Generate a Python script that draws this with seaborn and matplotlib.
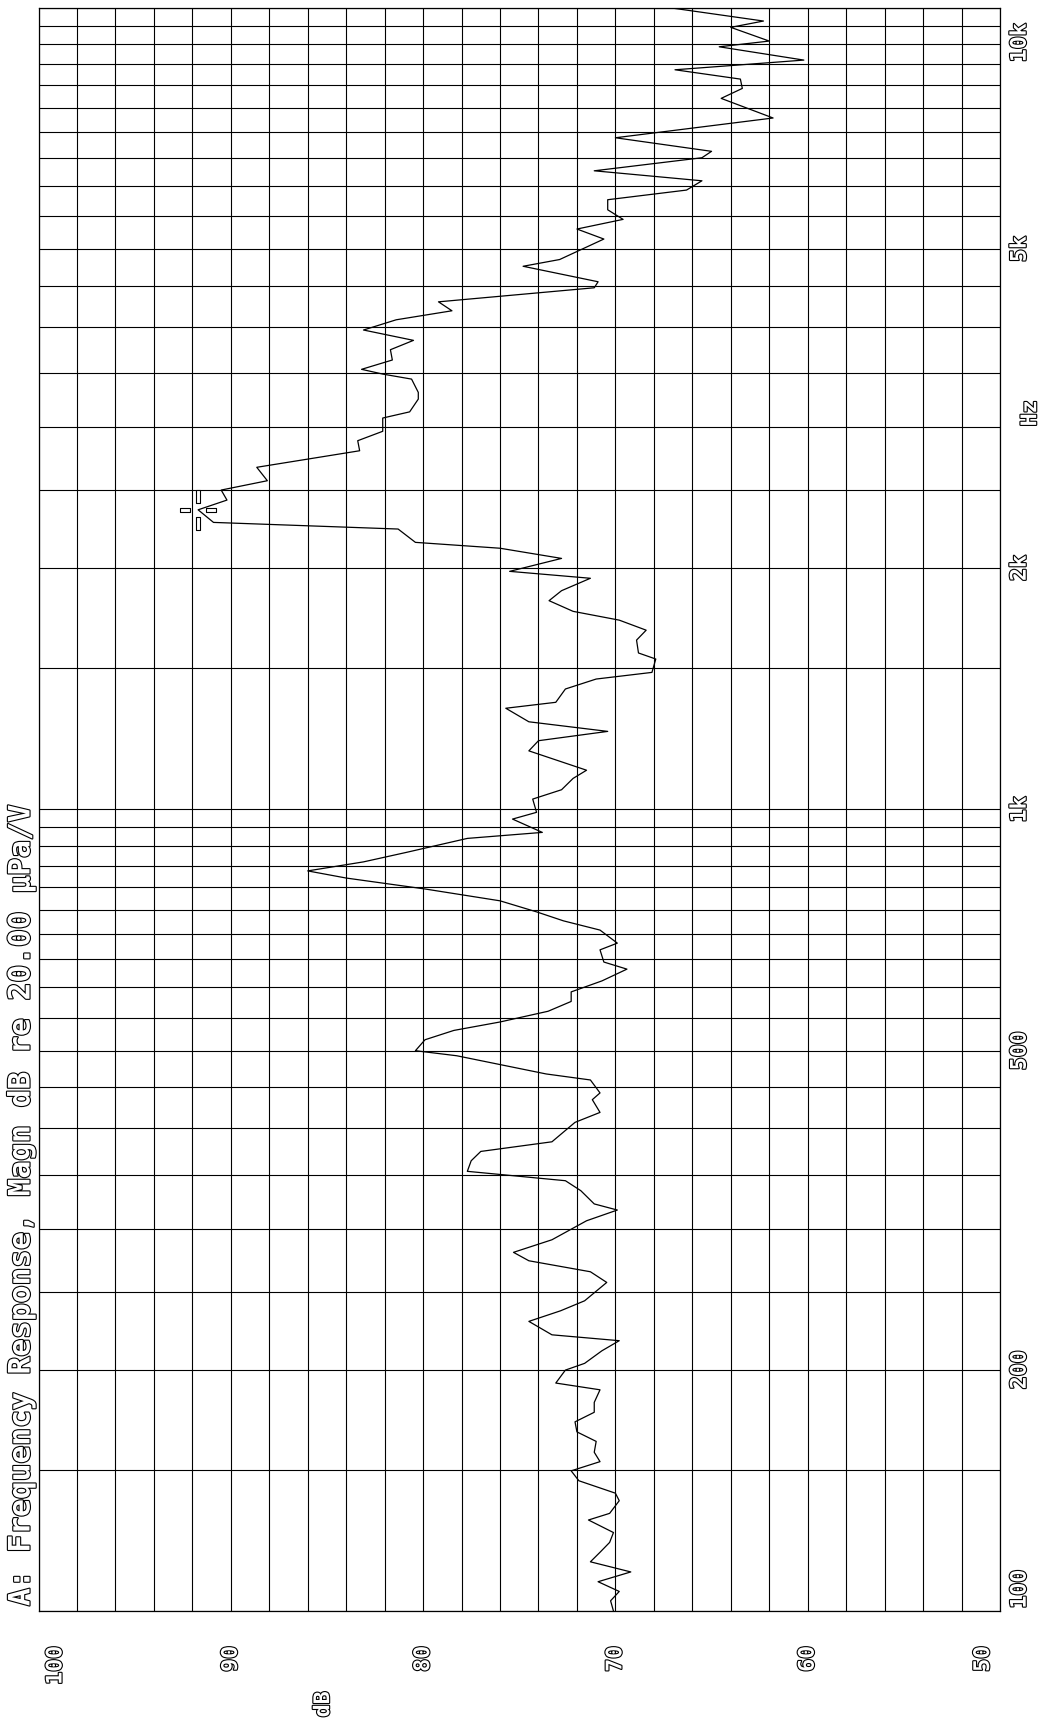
import numpy as np
import pandas as pd
import matplotlib
matplotlib.use('Agg')
import matplotlib.pyplot as plt
import matplotlib.patheffects as pe
from matplotlib.path import Path
from matplotlib.ticker import NullFormatter
from matplotlib.transforms import ScaledTranslation
import seaborn as sns

freq_hz = [10000, 9623, 9450, 9085, 8937, 8602, 8366, 8145, 7930, 7706,
           7284, 6882, 6619, 6498, 6259, 6082, 5922, 5760, 5596, 5444,
           5295, 5145, 4851, 4758, 4551, 4473, 4296, 4187, 4080, 3962,
           3846, 3744, 3635, 3539, 3491, 3441, 3312, 3249, 3132, 3077,
           2962, 2883, 2801, 2671, 2570, 2502, 2431, 2364, 2280, 2237,
           2153, 2117, 2056, 1981, 1942, 1874, 1821, 1766, 1722, 1673,
           1626, 1567, 1540, 1482, 1454, 1413, 1360, 1337, 1286, 1251,
           1218, 1183, 1119, 1093, 1058, 1030, 991.5, 972.5, 936, 920,
           884, 860, 838, 821, 795.6, 769, 745, 726, 707, 681,
           668, 645, 632, 611, 592, 576, 560, 543, 530, 516,
           500, 492.8, 467.7, 459.7, 442.9, 434.4, 418.8, 407, 384.9, 374.4,
           364.5, 353.6, 344.2, 334.5, 322, 316.4, 306.8, 290.5, 280.2, 273.5,
           265, 257, 243.8, 236.9, 229.8, 221.1, 217.4, 211.2, 203.7, 199.8,
           192.5, 188.8, 182.1, 177.0, 172.2, 167.3, 162.8, 157.8, 153.6, 149.6,
           145.4, 140.3, 137.3, 132.4, 129.9, 125.3, 121.8, 118.4, 115.2, 111.9,
           108.8, 105.8, 103.0, 100]
level_db = [67.2, 62.3, 64.0, 62.0, 64.6, 60.2, 66.9, 63.5, 63.4, 64.5,
            61.8, 70.0, 65.0, 65.5, 71.1, 65.5, 66.3, 70.4, 70.4, 69.6,
            72.0, 70.6, 72.9, 74.8, 70.9, 71.1, 79.2, 78.5, 81.4, 83.1,
            80.5, 81.7, 81.6, 83.2, 82.1, 80.6, 80.25, 80.25, 80.7, 82.1,
            82.1, 83.4, 83.3, 88.65, 88.1, 90.5, 90.2, 91.7, 90.9, 81.3,
            80.4, 76.0, 72.8, 75.5, 71.3, 72.8, 73.45, 72.2, 69.8, 68.4,
            68.9, 68.8, 67.9, 68.1, 71.0, 72.6, 73.1, 75.7, 74.5, 70.4,
            74.0, 74.5, 71.5, 72.2, 72.8, 74.3, 74.1, 75.35, 73.8, 77.7,
            80.85, 83.1, 86.0, 84.0, 79.9, 76.0, 74.1, 72.7, 70.8, 69.9,
            70.8, 70.6, 69.4, 70.7, 72.3, 72.3, 73.5, 76.0, 78.4, 79.9,
            80.4, 78.25, 73.6, 71.3, 70.8, 71.2, 70.8, 72.1, 73.3, 77.0,
            77.5, 77.7, 72.6, 71.8, 71.1, 69.9, 71.5, 73.3, 75.3, 74.5,
            71.3, 70.45, 71.6, 72.85, 74.5, 73.3, 69.8, 70.7, 71.6, 72.6,
            73.1, 70.8, 71.1, 71.1, 72.1, 72.0, 71.0, 71.1, 70.8, 72.3,
            71.9, 70.0, 69.8, 70.3, 71.4, 70.1, 70.3, 70.8, 71.3, 69.2,
            70.9, 69.8, 70.25, 70.1]

db_ticks = [100, 90, 80, 70, 60, 50]
db_labels = ['100', '90', '80', '70', '60', '50']
db_grid = list(range(50, 101, 2))
freq_ticks = [100, 200, 500, 1000, 2000, 5000, 10000]
freq_labels = ['100', '200', '500', '1k', '2k', '5k', '10k']
freq_grid = list(range(150, 1000, 50)) + list(range(1500, 10000, 500))

title = 'A: Frequency Response, Magn dB re 20.00 \u03bcPa/V'

sns.set_style('white')
plt.rcParams['font.family'] = ['DejaVu Sans Mono', 'DejaVu Sans']

df = pd.DataFrame({'freq': freq_hz, 'db': level_db})

fig = plt.figure(figsize=(10.41, 17.31), dpi=100)
ax = fig.add_axes([0.037, 0.0687, 0.9236, 0.9263])

sns.lineplot(data=df, x='db', y='freq', sort=False, estimator=None,
             color='black', lw=0.9, ax=ax)

ax.set_yscale('log')
ax.set_xlim(100, 50)
ax.set_ylim(100, 10000)

# outlined lettering like the plotter font
txt = dict(color='white', fontweight='bold',
           path_effects=[pe.withStroke(linewidth=1.6, foreground='black')])

ax.set_xticks(db_ticks)
ax.set_xticklabels(db_labels, rotation=90, fontsize=15.5, **txt)
ax.set_xticks(db_grid, minor=True)
ax.yaxis.tick_right()
ax.set_yticks(freq_ticks)
ax.set_yticklabels(freq_labels, rotation=90, va='center', fontsize=15.5, **txt)
ax.set_yticks(freq_grid, minor=True)
ax.yaxis.set_minor_formatter(NullFormatter())
ax.tick_params(which='both', length=0)
ax.tick_params(axis='x', pad=25)
ax.tick_params(axis='y', pad=7)
ax.grid(which='both', color='black', lw=0.8)
for s in ax.spines.values():
    s.set_color('black')
    s.set_linewidth(0.9)

# end labels are pulled inside the frame
xl = ax.get_xticklabels()
xl[0].set_transform(xl[0].get_transform() + ScaledTranslation(0.17, 0, fig.dpi_scale_trans))
xl[-1].set_transform(xl[-1].get_transform() + ScaledTranslation(-0.17, 0, fig.dpi_scale_trans))
yl = ax.get_yticklabels()
yl[0].set_transform(yl[0].get_transform() + ScaledTranslation(0, 0.22, fig.dpi_scale_trans))
yl[-1].set_transform(yl[-1].get_transform() + ScaledTranslation(0, -0.35, fig.dpi_scale_trans))

ax.set_xlabel('dB', rotation=90, fontsize=15.5, **txt)
ax.xaxis.set_label_coords(0.296, -0.05)
ax.yaxis.set_label_position('right')
ax.set_ylabel('Hz', rotation=90, fontsize=15.5, **txt)
ax.yaxis.set_label_coords(1.021, 0.747)

# cursor marker on the peak
def bar(x0, y0, x1, y1):
    return [(x0, y0), (x1, y0), (x1, y1), (x0, y1), (x0, y0)]
verts = []
codes = []
for r in [bar(-1.7, 7, 1.7, 20), bar(-1.7, -20, 1.7, -7),
          bar(-18, -1.7, -8, 1.7), bar(8, -1.7, 18, 1.7)]:
    verts += r
    codes += [Path.MOVETO, Path.LINETO, Path.LINETO, Path.LINETO, Path.CLOSEPOLY]
cursor = Path(verts, codes)
peak = df.loc[df['db'].idxmax()]
ax.plot([peak['db']], [peak['freq']], marker=cursor, markersize=28.8,
        markerfacecolor='white', markeredgecolor='black', mew=0.8, ls='none')

fig.text(21 / 1041, 1 - 1607 / 1731, title, rotation=90, ha='center', va='bottom',
         fontsize=21.3, **txt)

fig.savefig('out.png', dpi=100, facecolor='white')
